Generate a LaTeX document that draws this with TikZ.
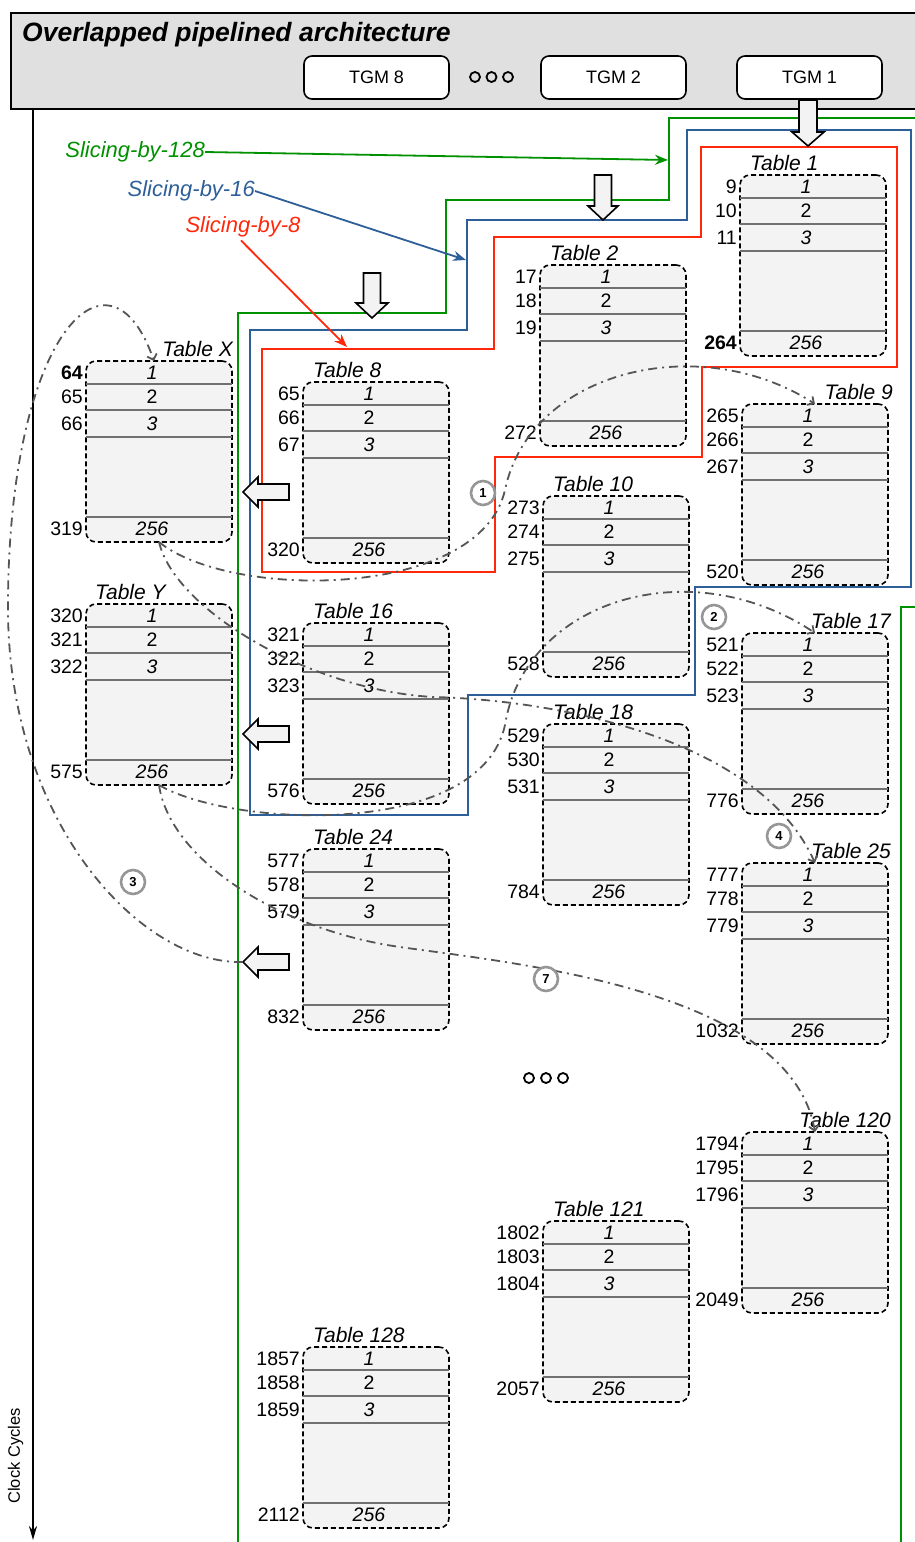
\documentclass[tikz,border=0pt]{standalone}
\usepackage{fontspec}
\setmainfont{Liberation Sans}
\usetikzlibrary{arrows.meta,calc}
\definecolor{hdrgray}{RGB}{224,224,224}
\definecolor{cellgray}{RGB}{243,243,243}
\definecolor{rowgray}{RGB}{112,112,112}
\definecolor{ddgray}{RGB}{85,85,85}
\definecolor{circgray}{RGB}{150,150,150}
\definecolor{slgreen}{RGB}{0,145,0}
\definecolor{slblue}{RGB}{46,95,152}
\definecolor{slred}{RGB}{255,40,10}
\newcommand\fsz[1]{\fontsize{#1}{#1}\selectfont}
\newcommand\crctab[7]{%
  \node[tbox, anchor=north west] (#1) at (#2,#3) {};
  \draw[rowline] ([yshift=-23pt]#1.north west) -- ([yshift=-23pt]#1.north east);
  \draw[rowline] ([yshift=-49pt]#1.north west) -- ([yshift=-49pt]#1.north east);
  \draw[rowline] ([yshift=-76pt]#1.north west) -- ([yshift=-76pt]#1.north east);
  \draw[rowline] ([yshift=-156pt]#1.north west) -- ([yshift=-156pt]#1.north east);
  \node[cell] at ([xshift=-7pt,yshift=-11.5pt]#1.north) {\itshape 1};
  \node[cell] at ([xshift=-7pt,yshift=-36pt]#1.north) {2};
  \node[cell] at ([xshift=-7pt,yshift=-62.5pt]#1.north) {\itshape 3};
  \node[cell] at ([xshift=-7pt,yshift=-168pt]#1.north) {\itshape 256};
  \node[num,anchor=east] at ([xshift=-3pt,yshift=-11.5pt]#1.north west) {#4};
  \node[num,anchor=east] at ([xshift=-3pt,yshift=-36pt]#1.north west) {#5};
  \node[num,anchor=east] at ([xshift=-3pt,yshift=-62.5pt]#1.north west) {#6};
  \node[num,anchor=east] at ([xshift=-3pt,yshift=-168pt]#1.north west) {#7};
}
\newcommand\leftblk[2]{%
  \coordinate (#1) at (243,#2);
  \filldraw[blk] (#1) -- ++(15,-15) -- ++(0,7) -- ++(31,0) -- ++(0,16) -- ++(-31,0) -- ++(0,7) -- cycle;
}
\newcommand\dnblk[6]{% x, shaft top, shaft bottom, tip, shaft half width, head half width
  \filldraw[blk] ({#1-#5},#2) -- ({#1+#5},#2) -- ({#1+#5},#3) -- ({#1+#6},#3) -- (#1,#4) -- ({#1-#6},#3) -- ({#1-#5},#3) -- cycle;
}
\begin{document}
\begin{tikzpicture}[x=1pt,y=-1pt,
  tbox/.style={draw=black, dash pattern=on 5pt off 3pt, line width=1.6pt, rounded corners=10pt,
    fill=cellgray, minimum width=146pt, minimum height=181pt, inner sep=0pt, outer sep=0pt},
  rowline/.style={draw=rowgray, line width=2.5pt},
  cell/.style={font=\fsz{19.5}, inner sep=0pt},
  num/.style={font=\fsz{19.5}, inner sep=0pt},
  tlab/.style={font=\fsz{21}\itshape, inner sep=0pt},
  dd/.style={draw=ddgray, line width=1.8pt, dash pattern=on 9pt off 5pt on 2pt off 5pt},
  ddarr/.style={dd, -{Straight Barb[length=5pt,width=10pt]}},
  circ/.style={circle, draw=circgray, fill=white, line width=2.6pt, minimum size=24pt, inner sep=0pt, font=\fsz{13}\bfseries},
  blk/.style={draw=black, fill=cellgray, line width=1.6pt, line join=miter},
  tgm/.style={draw=black, fill=white, line width=1.6pt, rounded corners=8pt, minimum width=145pt, minimum height=43pt, font=\fsz{18}},
  grn/.style={draw=slgreen, line width=2pt},
  blu/.style={draw=slblue, line width=2pt},
  rd/.style={draw=slred, line width=2pt},
  slab/.style={font=\fsz{22}\itshape, inner sep=0pt},
  slarr/.style={line width=1.8pt, -{Stealth[length=13pt,width=10pt]}}
]
\useasboundingbox (0,0) rectangle (915,1542);
\clip (0,0) rectangle (915,1542);

% header
\node[draw=black, fill=hdrgray, line width=2pt, anchor=north west, minimum width=930pt, minimum height=96pt, inner sep=0pt] (hdr) at (10,12) {};
\node[anchor=base west, font=\fsz{26.5}\bfseries\itshape, inner sep=0pt] (title) at (22,41) {Overlapped pipelined architecture};
\node[tgm] (tgm8) at (376.5,77.5) {TGM 8};
\node[tgm] (tgm2) at (613.5,77.5) {TGM 2};
\node[tgm] (tgm1) at (809.5,77.5) {TGM 1};
\foreach \cx in {475,491.5,508} \draw[line width=1.8pt] (\cx,77) circle (5pt);

% clock axis
\coordinate (axbot) at (33,1540);
\draw[line width=2pt, -{Stealth[length=14pt,width=8pt]}] (hdr.south west -| axbot) -- (axbot);
\node[rotate=90, font=\fsz{16.5}, inner sep=0pt] (clk) at (15.5,1456) {Clock Cycles};

% slicing outlines
\draw[grn] (238,1550) -- (238,313) -- (446,313) -- (446,200) -- (669,200) -- (669,118) -- (925,118);
\draw[grn] (925,607) -- (901,607) -- (901,1550);
\draw[blu] (250,330) -- (467,330) -- (467,220) -- (687,220) -- (687,130) -- (911,130) -- (911,587)
  -- (695,587) -- (695,695) -- (468,695) -- (468,815) -- (250,815) -- cycle;
\draw[rd] (262,349) -- (494,349) -- (494,237) -- (701,237) -- (701,147) -- (897,147) -- (897,367)
  -- (702,367) -- (702,457) -- (495,457) -- (495,572) -- (262,572) -- cycle;

% slicing labels
\node[slab, text=slgreen, anchor=east] (s128) at (205,152) {Slicing-by-128};
\node[slab, text=slblue, anchor=east] (s16) at (255,191) {Slicing-by-16};
\node[slab, text=slred] (s8) at (243,227) {Slicing-by-8};
\coordinate (g128) at (668,160);
\coordinate (g16) at (466,260);
\coordinate (g8) at (347,347);
\draw[slarr, slgreen] (s128.east) -- (g128);
\draw[slarr, slblue] (s16.east) -- (g16);
\draw[slarr, slred] ([xshift=-2pt,yshift=-3pt]s8.south) -- (g8);

% tables
\crctab{T1}{740}{175}{9}{10}{11}{\textbf{264}}
\crctab{T2}{540}{265}{17}{18}{19}{272}
\crctab{T8}{303}{382}{65}{66}{67}{320}
\crctab{TX}{86}{361}{\textbf{64}}{65}{66}{319}
\crctab{T9}{742}{404}{265}{266}{267}{520}
\crctab{T10}{543}{496}{273}{274}{275}{528}
\crctab{TY}{86}{604}{320}{321}{322}{575}
\crctab{T16}{303}{623}{321}{322}{323}{576}
\crctab{T17}{742}{633}{521}{522}{523}{776}
\crctab{T18}{543}{724}{529}{530}{531}{784}
\crctab{T24}{303}{849}{577}{578}{579}{832}
\crctab{T25}{742}{863}{777}{778}{779}{1032}
\crctab{T120}{742}{1132}{1794}{1795}{1796}{2049}
\crctab{T121}{543}{1221}{1802}{1803}{1804}{2057}
\crctab{T128}{303}{1347}{1857}{1858}{1859}{2112}

% table labels
\node[tlab, anchor=base west] at ([xshift=10pt,yshift=5pt]T1.north west) {Table 1};
\node[tlab, anchor=base west] at ([xshift=10pt,yshift=5pt]T2.north west) {Table 2};
\node[tlab, anchor=base west] at ([xshift=10pt,yshift=5pt]T8.north west) {Table 8};
\node[tlab, anchor=base east] at ([xshift=1pt,yshift=5pt]TX.north east) {Table X};
\node[tlab, anchor=base east] at ([xshift=5pt,yshift=5pt]T9.north east) {Table 9};
\node[tlab, anchor=base west] at ([xshift=10pt,yshift=5pt]T10.north west) {Table 10};
\node[tlab, anchor=base west] at ([xshift=9pt,yshift=5pt]TY.north west) {Table Y};
\node[tlab, anchor=base west] at ([xshift=10pt,yshift=5pt]T16.north west) {Table 16};
\node[tlab, anchor=base east] at ([xshift=3pt,yshift=5pt]T17.north east) {Table 17};
\node[tlab, anchor=base west] at ([xshift=10pt,yshift=5pt]T18.north west) {Table 18};
\node[tlab, anchor=base west] at ([xshift=10pt,yshift=5pt]T24.north west) {Table 24};
\node[tlab, anchor=base east] at ([xshift=3pt,yshift=5pt]T25.north east) {Table 25};
\node[tlab, anchor=base east] at ([xshift=3pt,yshift=5pt]T120.north east) {Table 120};
\node[tlab, anchor=base west] at ([xshift=10pt,yshift=5pt]T121.north west) {Table 121};
\node[tlab, anchor=base west] at ([xshift=10pt,yshift=5pt]T128.north west) {Table 128};

% block arrows
\dnblk{808}{100}{132}{146}{9}{16}
\dnblk{603}{175}{206}{220}{8.5}{15}
\dnblk{372}{273}{303}{318}{8.5}{16}
\leftblk{LA1}{492}
\leftblk{LA2}{734}
\leftblk{LA3}{962}

% dash-dot transitions
\draw[ddarr] (TX.south) .. controls (230,600) and (480,600) .. (505,490) .. controls (530,370) and (700,330) .. (T9.north);
\draw[ddarr] (TX.south) .. controls (175,610) and (310,690) .. (433,697) .. controls (560,700) and (760,740) .. (T25.north);
\draw[ddarr] (TY.south) .. controls (230,827) and (480,840) .. (505,725) .. controls (525,600) and (690,550) .. (T17.north);
\draw[ddarr] (TY.south) .. controls (170,860) and (280,930) .. (400,947) .. controls (520,964) and (790,990) .. (T120.north);
\draw[ddarr] (LA3) .. controls (140,965) and (5,820) .. (8,600) .. controls (10,330) and (110,235) .. ([xshift=-5pt]TX.north);

% step circles
\node[circ] (c1) at (483,493) {1};
\node[circ] (c2) at (714,617) {2};
\node[circ] (c3) at (133,882) {3};
\node[circ] (c4) at (779,836) {4};
\node[circ] (c7) at (546,979) {7};

% continuation dots
\foreach \cx in {529,546,563} \draw[line width=1.8pt] (\cx,1078) circle (5pt);
\end{tikzpicture}
\end{document}
